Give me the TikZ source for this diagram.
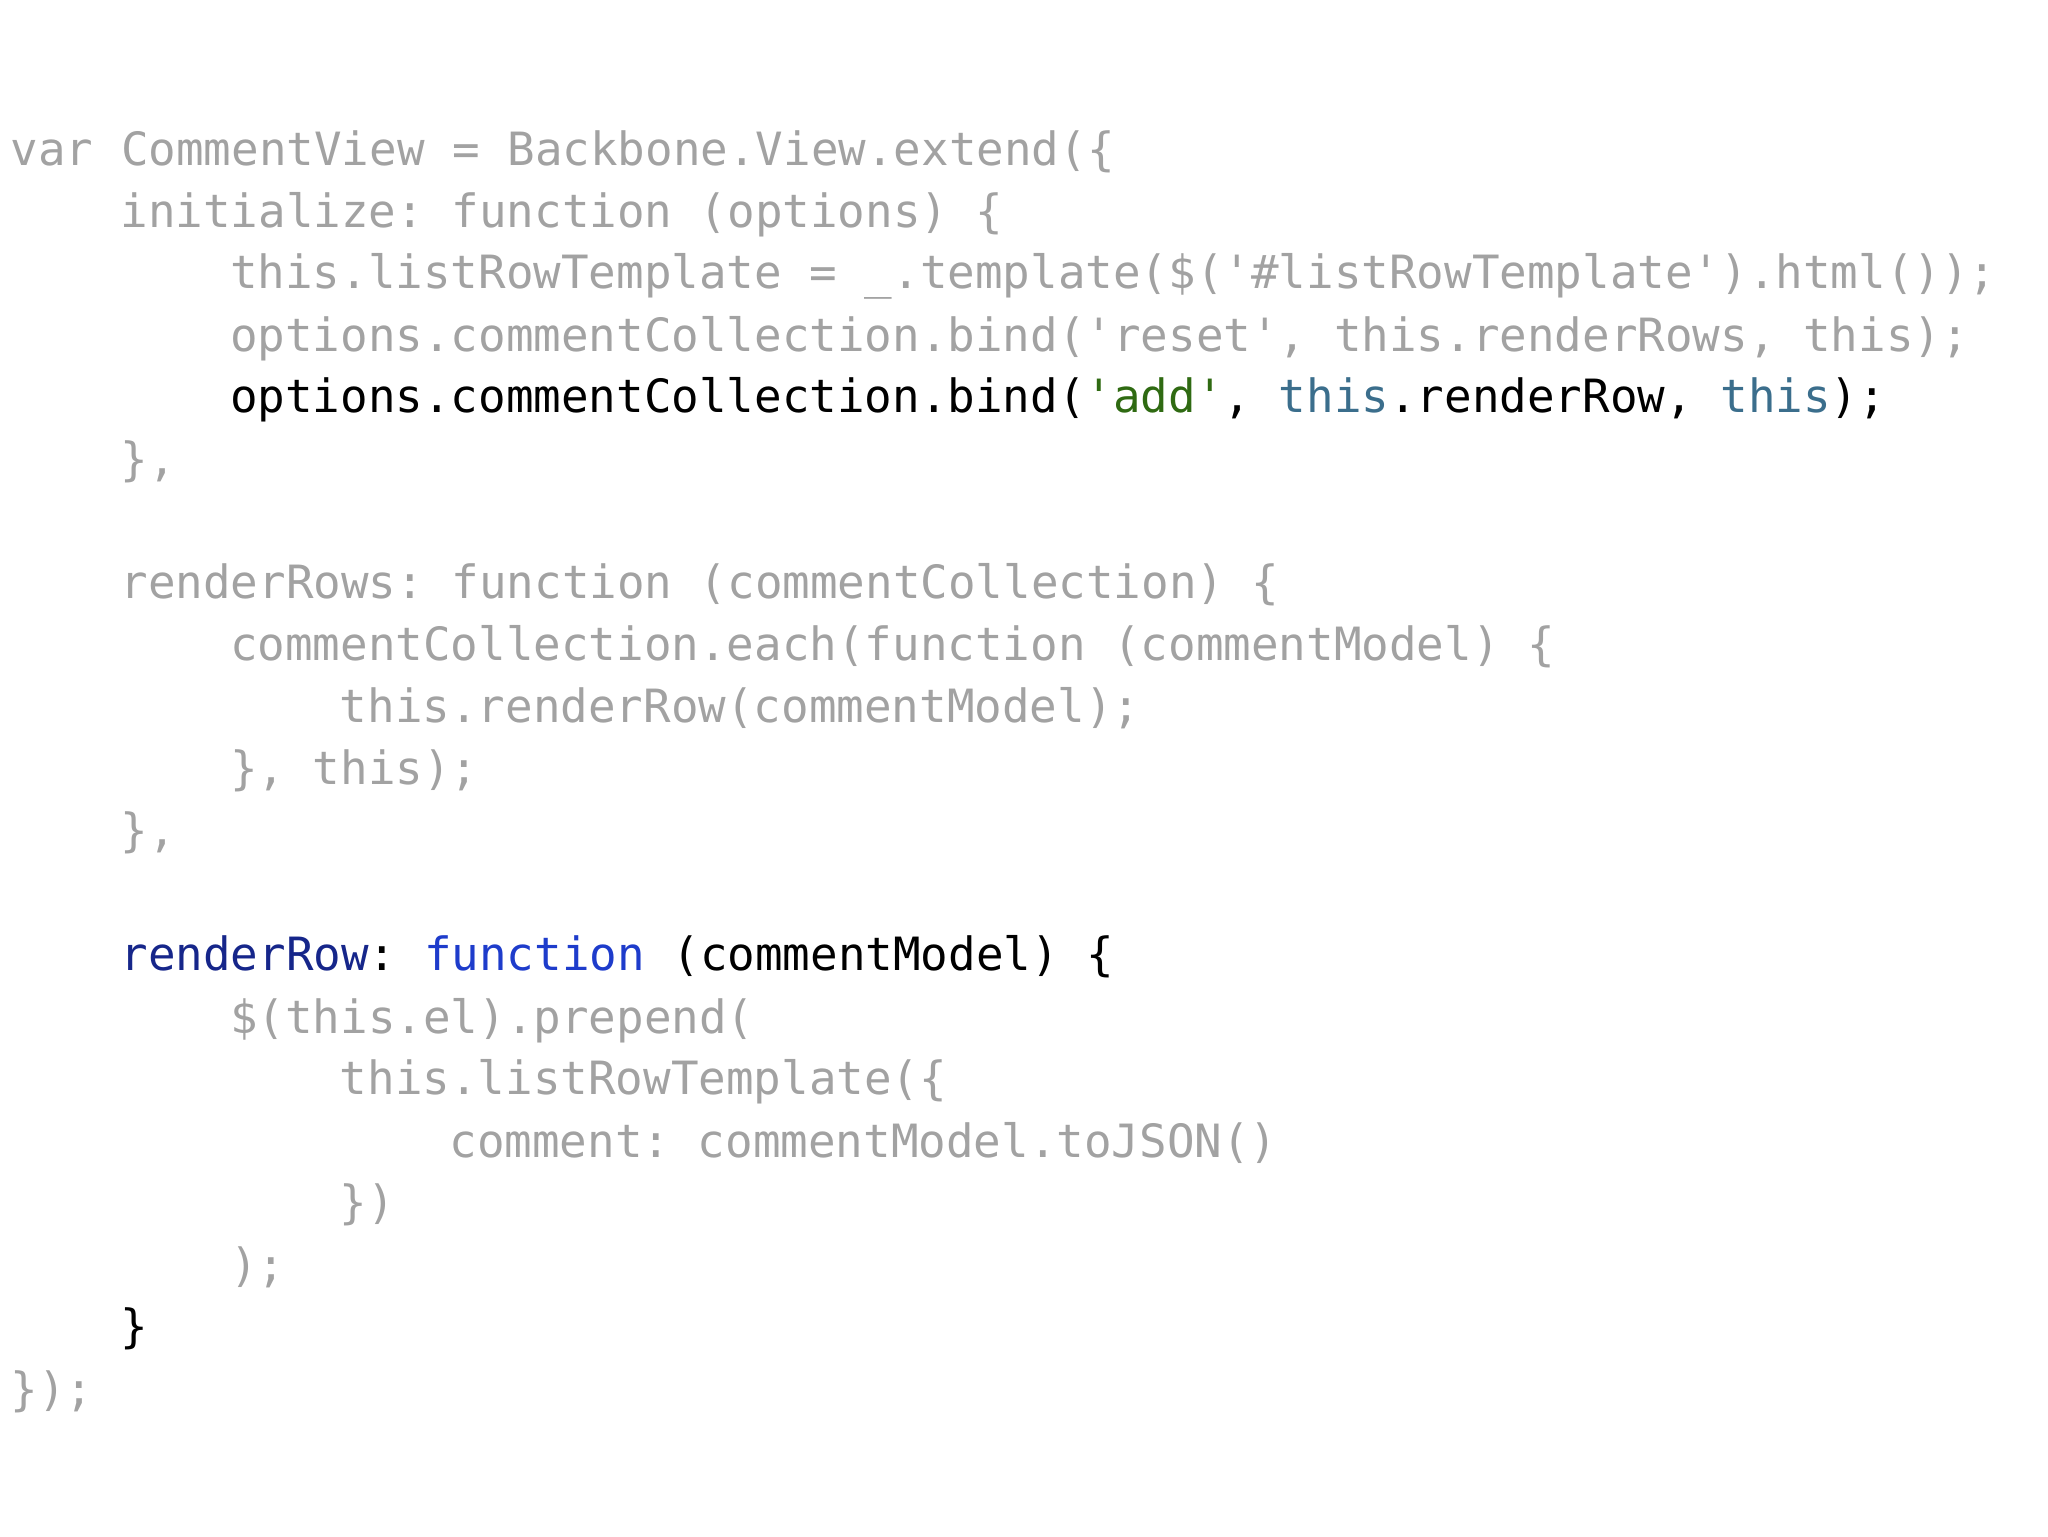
\documentclass[tikz,border=0pt]{standalone}
\usepackage{fontspec}
\setmonofont{DejaVu Sans Mono}
\definecolor{gr}{HTML}{A2A2A2}
\definecolor{grn}{HTML}{2F6A12}
\definecolor{teal}{HTML}{3B6E8C}
\definecolor{navy}{HTML}{16268A}
\definecolor{blu}{HTML}{1E3CCB}
\tikzset{ln/.style={anchor=base west,inner sep=0,font=\fontsize{35.1}{40}\ttfamily,text=gr}}
\begin{document}
\begin{tikzpicture}[x=1pt,y=-1pt]
\useasboundingbox (0,0) rectangle (1568,1176);
\node[ln] (l1) at (8,127) {var CommentView = Backbone.View.extend(\{};
\node[ln] (l2) at (92,174) {initialize: function (options) \{};
\node[ln] (l3) at (176,221) {this.listRowTemplate = \_.template(\$('\#listRowTemplate').html());};
\node[ln] (l4) at (176,269) {options.commentCollection.bind('reset', this.renderRows, this);};
\node[ln,text=black] (l5) at (176,316) {options.commentCollection.bind(\textcolor{grn}{'add'}, \textcolor{teal}{this}.renderRow, \textcolor{teal}{this});};
\node[ln] (l6) at (92,364) {\},};
\node[ln] (l7) at (92,458) {renderRows: function (commentCollection) \{};
\node[ln] (l8) at (176,506) {commentCollection.each(function (commentModel) \{};
\node[ln] (l9) at (260,553) {this.renderRow(commentModel);};
\node[ln] (l10) at (176,601) {\}, this);};
\node[ln] (l11) at (92,648) {\},};
\node[ln,text=black] (l12) at (92,743) {\textcolor{navy}{renderRow}: \textcolor{blu}{function} (commentModel) \{};
\node[ln] (l13) at (176,791) {\$(this.el).prepend(};
\node[ln] (l14) at (260,838) {this.listRowTemplate(\{};
\node[ln] (l15) at (344,886) {comment: commentModel.toJSON()};
\node[ln] (l16) at (260,933) {\})};
\node[ln] (l17) at (176,981) {);};
\node[ln,text=black] (l18) at (92,1028) {\}};
\node[ln] (l19) at (8,1076) {\});};
\end{tikzpicture}
\end{document}
